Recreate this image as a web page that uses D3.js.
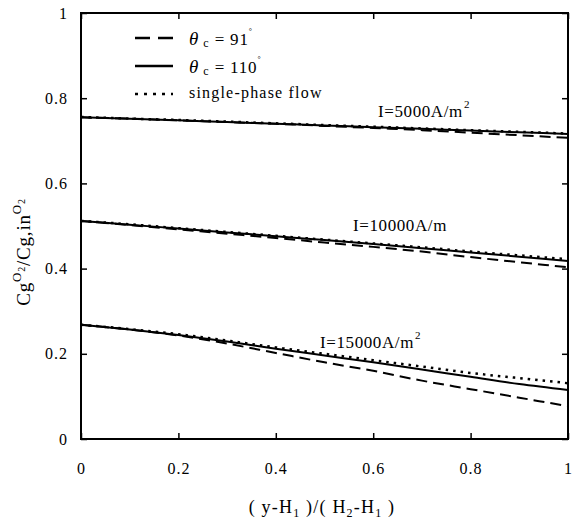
<!DOCTYPE html>
<html>
<head>
<meta charset="utf-8">
<script src="https://cdn.jsdelivr.net/npm/d3@7"></script>
<style>
  body { margin: 0; background: #fff; }
  text { font-family: "Liberation Serif", "DejaVu Serif", serif; fill: #000; }
</style>
</head>
<body>
<div id="chart"></div>
<script>
// x positions of sampled points, (y-H1)/(H2-H1)
const xs = [0, 0.1, 0.2, 0.3, 0.4, 0.5, 0.6, 0.7, 0.8, 0.9, 1.0];

// I = 5000 A/m2
const i5000_c91  = [0.755, 0.752, 0.748, 0.744, 0.740, 0.735, 0.730, 0.725, 0.719, 0.713, 0.707];
const i5000_c110 = [0.755, 0.752, 0.748, 0.744, 0.740, 0.736, 0.732, 0.728, 0.724, 0.720, 0.716];
const i5000_sp   = [0.756, 0.752, 0.749, 0.745, 0.741, 0.737, 0.733, 0.729, 0.725, 0.721, 0.717];

// I = 10000 A/m2
const i10000_c91  = [0.512, 0.502, 0.492, 0.482, 0.472, 0.461, 0.451, 0.440, 0.427, 0.415, 0.403];
const i10000_c110 = [0.512, 0.503, 0.494, 0.485, 0.476, 0.467, 0.458, 0.448, 0.438, 0.428, 0.418];
const i10000_sp   = [0.512, 0.504, 0.495, 0.486, 0.477, 0.468, 0.459, 0.450, 0.440, 0.431, 0.422];

// I = 15000 A/m2
const i15000_c91  = [0.268, 0.257, 0.243, 0.224, 0.202, 0.180, 0.160, 0.137, 0.117, 0.097, 0.077];
const i15000_c110 = [0.268, 0.257, 0.244, 0.229, 0.212, 0.196, 0.180, 0.163, 0.146, 0.129, 0.115];
const i15000_sp   = [0.268, 0.258, 0.246, 0.231, 0.215, 0.200, 0.185, 0.170, 0.155, 0.143, 0.131];

const xTicks = [0, 0.2, 0.4, 0.6, 0.8, 1];
const yTicks = [0, 0.2, 0.4, 0.6, 0.8, 1];

const styles = {
    c91:  { dash: '11,6', width: 2 },
    c110: { dash: null, width: 2 },
    sp:   { dash: '2.5,5', width: 2.5 }
};

const series = [
    { values: i5000_c91,  kind: 'c91' },
    { values: i5000_sp,   kind: 'sp' },
    { values: i5000_c110, kind: 'c110' },
    { values: i10000_c91,  kind: 'c91' },
    { values: i10000_sp,   kind: 'sp' },
    { values: i10000_c110, kind: 'c110' },
    { values: i15000_c91,  kind: 'c91' },
    { values: i15000_sp,   kind: 'sp' },
    { values: i15000_c110, kind: 'c110' }
];

const width = 572, height = 529;
const margin = { left: 81, right: 4, top: 13, bottom: 90 };

const svg = d3.select('#chart').append('svg')
    .attr('width', width)
    .attr('height', height);

const x = d3.scaleLinear().domain([0, 1]).range([margin.left, width - margin.right]);
const y = d3.scaleLinear().domain([0, 1]).range([height - margin.bottom, margin.top]);

const styleTickText = g => g.selectAll('text')
    .attr('font-size', 16)
    .attr('letter-spacing', 1)
    .attr('font-family', '"Liberation Serif", serif');

// axes with inward ticks
svg.append('g')
    .attr('transform', `translate(0,${y(0)})`)
    .call(d3.axisBottom(x).tickValues(xTicks).tickSizeInner(-6).tickSizeOuter(0).tickPadding(24)
        .tickFormat(d => d3.format('')(d)))
    .call(g => g.select('.domain').remove())
    .call(g => g.selectAll('line').attr('stroke-width', 1.5))
    .call(styleTickText);

svg.append('g')
    .attr('transform', `translate(0,${y(1)})`)
    .call(d3.axisTop(x).tickValues(xTicks).tickSizeInner(-6).tickSizeOuter(0).tickFormat(''))
    .call(g => g.select('.domain').remove())
    .call(g => g.selectAll('line').attr('stroke-width', 1.5));

svg.append('g')
    .attr('transform', `translate(${x(0)},0)`)
    .call(d3.axisLeft(y).tickValues(yTicks).tickSizeInner(-6).tickSizeOuter(0).tickPadding(13)
        .tickFormat(d => d3.format('')(d)))
    .call(g => g.select('.domain').remove())
    .call(g => g.selectAll('line').attr('stroke-width', 1.5))
    .call(styleTickText);

svg.append('g')
    .attr('transform', `translate(${x(1)},0)`)
    .call(d3.axisRight(y).tickValues(yTicks).tickSizeInner(-6).tickSizeOuter(0).tickFormat(''))
    .call(g => g.select('.domain').remove())
    .call(g => g.selectAll('line').attr('stroke-width', 1.5));

// frame
svg.append('rect')
    .attr('x', x(0)).attr('y', y(1))
    .attr('width', x(1) - x(0)).attr('height', y(0) - y(1))
    .attr('fill', 'none').attr('stroke', '#000').attr('stroke-width', 2);

// curves
const line = d3.line()
    .x((d, i) => x(xs[i]))
    .y(d => y(d))
    .curve(d3.curveMonotoneX);

svg.append('g').selectAll('path')
    .data(series)
    .join('path')
    .attr('d', d => line(d.values))
    .attr('fill', 'none')
    .attr('stroke', '#000')
    .attr('stroke-width', d => styles[d.kind].width)
    .attr('stroke-dasharray', d => styles[d.kind].dash);

// curve labels
const curveLabels = [
    { text: 'I=5000A/m', sup: '2', lx: 378, ly: 117 },
    { text: 'I=10000A/m', sup: null, lx: 353, ly: 231 },
    { text: 'I=15000A/m', sup: '2', lx: 320, ly: 348 }
];
curveLabels.forEach(l => {
    const t = svg.append('text').attr('x', l.lx).attr('y', l.ly)
        .attr('font-size', 17).attr('letter-spacing', 0.6);
    t.append('tspan').text(l.text);
    if (l.sup) t.append('tspan').attr('dx', 1).attr('dy', -9).attr('font-size', 11).text(l.sup);
});

// legend
const legendItems = [
    { kind: 'c91', label: '91', y: 38 },
    { kind: 'c110', label: '110', y: 66 },
    { kind: 'sp', label: 'single-phase flow', y: 94 }
];
const legend = svg.append('g');
legendItems.forEach(it => {
    legend.append('line')
        .attr('x1', 135).attr('x2', 173)
        .attr('y1', it.y).attr('y2', it.y)
        .attr('stroke', '#000')
        .attr('stroke-width', 2.5)
        .attr('stroke-dasharray', it.kind === 'c91' ? '15,8' : (it.kind === 'sp' ? '3,6' : null));
    const t = legend.append('text').attr('x', 189).attr('y', it.y + 7).attr('font-size', 17);
    if (it.kind === 'sp') {
        t.attr('y', it.y + 4).attr('font-size', 16).attr('letter-spacing', 1.2).text(it.label);
    } else {
        t.append('tspan').attr('font-style', 'italic').attr('font-size', 19).text('θ');
        t.append('tspan').attr('dx', 5).attr('dy', 2).attr('font-size', 12).text('c');
        t.append('tspan').attr('dx', 6).attr('dy', -2).attr('letter-spacing', 0.8).text('= ' + it.label);
        t.append('tspan').attr('dy', -11).attr('font-size', 8).text('°');
    }
});

// x axis title
const xt = svg.append('text')
    .attr('x', 322).attr('y', 513)
    .attr('text-anchor', 'middle')
    .attr('font-size', 18)
    .attr('letter-spacing', 1.2);
xt.append('tspan').text('( y-H');
xt.append('tspan').attr('dy', 4).attr('font-size', 12).text('1');
xt.append('tspan').attr('dy', -4).text('  )/( H');
xt.append('tspan').attr('dy', 4).attr('font-size', 12).text('2');
xt.append('tspan').attr('dy', -4).text('-H');
xt.append('tspan').attr('dy', 4).attr('font-size', 12).text('1');
xt.append('tspan').attr('dy', -4).text('  )');

// y axis title
const yt = svg.append('text')
    .attr('transform', 'translate(30,252) rotate(-90)')
    .attr('text-anchor', 'middle')
    .attr('font-size', 19)
    .attr('letter-spacing', 0.8);
yt.append('tspan').text('Cg');
yt.append('tspan').attr('dy', -9).attr('font-size', 13).text('O');
yt.append('tspan').attr('dy', 4).attr('font-size', 10).text('2');
yt.append('tspan').attr('dy', 5).text('/Cg,in');
yt.append('tspan').attr('dy', -9).attr('font-size', 13).text('O');
yt.append('tspan').attr('dy', 4).attr('font-size', 10).text('2');
</script>
</body>
</html>
